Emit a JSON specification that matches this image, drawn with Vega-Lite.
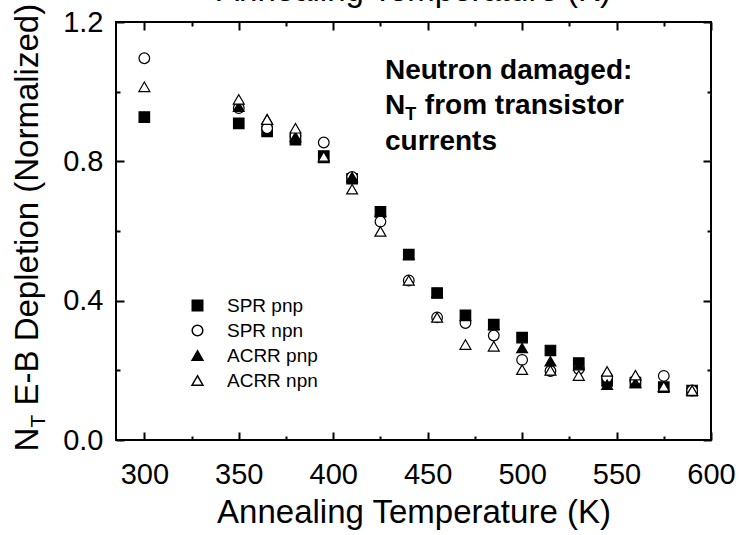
{
  "$schema": "https://vega.github.io/schema/vega-lite/v6.json",
  "width": 595,
  "height": 418,
  "autosize": "none",
  "padding": {"left": 116, "top": 22, "right": 28, "bottom": 95},
  "background": "white",
  "config": {
    "font": "Liberation Sans",
    "view": {"stroke": "black", "strokeWidth": 2},
    "axis": {
      "domain": false,
      "grid": false,
      "tickColor": "black",
      "tickWidth": 2,
      "labelFont": "Liberation Sans",
      "labelFontSize": 29,
      "labelColor": "black",
      "titleFont": "Liberation Sans",
      "titleFontSize": 33,
      "titleFontWeight": "normal",
      "titleColor": "black"
    },
    "legend": {
      "labelFont": "Liberation Sans",
      "labelFontSize": 19,
      "labelColor": "black"
    }
  },
  "datasets": {
    "pts": [
      {"T": 300, "v": 0.927, "s": "SPR pnp"},
      {"T": 350, "v": 0.909, "s": "SPR pnp"},
      {"T": 365, "v": 0.886, "s": "SPR pnp"},
      {"T": 380, "v": 0.862, "s": "SPR pnp"},
      {"T": 395, "v": 0.815, "s": "SPR pnp"},
      {"T": 410, "v": 0.75, "s": "SPR pnp"},
      {"T": 425, "v": 0.655, "s": "SPR pnp"},
      {"T": 440, "v": 0.532, "s": "SPR pnp"},
      {"T": 455, "v": 0.422, "s": "SPR pnp"},
      {"T": 470, "v": 0.358, "s": "SPR pnp"},
      {"T": 485, "v": 0.331, "s": "SPR pnp"},
      {"T": 500, "v": 0.294, "s": "SPR pnp"},
      {"T": 515, "v": 0.257, "s": "SPR pnp"},
      {"T": 530, "v": 0.221, "s": "SPR pnp"},
      {"T": 545, "v": 0.17, "s": "SPR pnp"},
      {"T": 560, "v": 0.165, "s": "SPR pnp"},
      {"T": 575, "v": 0.152, "s": "SPR pnp"},
      {"T": 590, "v": 0.142, "s": "SPR pnp"},
      {"T": 300, "v": 1.096, "s": "SPR npn"},
      {"T": 350, "v": 0.953, "s": "SPR npn"},
      {"T": 365, "v": 0.895, "s": "SPR npn"},
      {"T": 380, "v": 0.873, "s": "SPR npn"},
      {"T": 395, "v": 0.854, "s": "SPR npn"},
      {"T": 410, "v": 0.755, "s": "SPR npn"},
      {"T": 425, "v": 0.627, "s": "SPR npn"},
      {"T": 440, "v": 0.458, "s": "SPR npn"},
      {"T": 455, "v": 0.352, "s": "SPR npn"},
      {"T": 470, "v": 0.336, "s": "SPR npn"},
      {"T": 485, "v": 0.3, "s": "SPR npn"},
      {"T": 500, "v": 0.23, "s": "SPR npn"},
      {"T": 515, "v": 0.198, "s": "SPR npn"},
      {"T": 530, "v": 0.204, "s": "SPR npn"},
      {"T": 545, "v": 0.18, "s": "SPR npn"},
      {"T": 560, "v": 0.17, "s": "SPR npn"},
      {"T": 575, "v": 0.184, "s": "SPR npn"},
      {"T": 590, "v": 0.142, "s": "SPR npn"},
      {"T": 350, "v": 0.957, "s": "ACRR pnp"},
      {"T": 365, "v": 0.921, "s": "ACRR pnp"},
      {"T": 380, "v": 0.87, "s": "ACRR pnp"},
      {"T": 395, "v": 0.81, "s": "ACRR pnp"},
      {"T": 410, "v": 0.755, "s": "ACRR pnp"},
      {"T": 425, "v": 0.656, "s": "ACRR pnp"},
      {"T": 440, "v": 0.532, "s": "ACRR pnp"},
      {"T": 455, "v": 0.422, "s": "ACRR pnp"},
      {"T": 470, "v": 0.356, "s": "ACRR pnp"},
      {"T": 485, "v": 0.33, "s": "ACRR pnp"},
      {"T": 500, "v": 0.264, "s": "ACRR pnp"},
      {"T": 515, "v": 0.226, "s": "ACRR pnp"},
      {"T": 530, "v": 0.215, "s": "ACRR pnp"},
      {"T": 545, "v": 0.159, "s": "ACRR pnp"},
      {"T": 560, "v": 0.164, "s": "ACRR pnp"},
      {"T": 575, "v": 0.152, "s": "ACRR pnp"},
      {"T": 590, "v": 0.142, "s": "ACRR pnp"},
      {"T": 300, "v": 1.014, "s": "ACRR npn"},
      {"T": 350, "v": 0.978, "s": "ACRR npn"},
      {"T": 365, "v": 0.92, "s": "ACRR npn"},
      {"T": 380, "v": 0.895, "s": "ACRR npn"},
      {"T": 395, "v": 0.814, "s": "ACRR npn"},
      {"T": 410, "v": 0.72, "s": "ACRR npn"},
      {"T": 425, "v": 0.599, "s": "ACRR npn"},
      {"T": 440, "v": 0.458, "s": "ACRR npn"},
      {"T": 455, "v": 0.352, "s": "ACRR npn"},
      {"T": 470, "v": 0.274, "s": "ACRR npn"},
      {"T": 485, "v": 0.269, "s": "ACRR npn"},
      {"T": 500, "v": 0.202, "s": "ACRR npn"},
      {"T": 515, "v": 0.2, "s": "ACRR npn"},
      {"T": 530, "v": 0.185, "s": "ACRR npn"},
      {"T": 545, "v": 0.197, "s": "ACRR npn"},
      {"T": 560, "v": 0.186, "s": "ACRR npn"},
      {"T": 575, "v": 0.154, "s": "ACRR npn"},
      {"T": 590, "v": 0.142, "s": "ACRR npn"}
    ]
  },
  "layer": [
    {
      "data": {"name": "pts"},
      "mark": {"type": "point", "stroke": "black", "strokeWidth": 1.2, "opacity": 1},
      "encoding": {
        "x": {
          "field": "T", "type": "quantitative",
          "scale": {"domain": [285, 600], "nice": false, "zero": false},
          "axis": {
            "orient": "bottom",
            "values": [300, 325, 350, 375, 400, 425, 450, 475, 500, 525, 550, 575, 600],
            "tickSize": {"condition": {"test": "datum.value % 50 === 0", "value": -8}, "value": -4},
            "labelExpr": "datum.value % 50 === 0 ? datum.label : ''",
            "labelPadding": 28,
            "labelFlush": false,
            "labelOverlap": false,
            "title": "Annealing Temperature (K)",
            "titlePadding": 3
          }
        },
        "y": {
          "field": "v", "type": "quantitative",
          "scale": {"domain": [0, 1.2], "nice": false, "zero": false},
          "axis": {
            "orient": "left",
            "values": [0, 0.2, 0.4, 0.6, 0.8, 1.0, 1.2],
            "tickSize": {"condition": {"test": "round(datum.value * 10) % 4 === 0", "value": -8}, "value": -4},
            "labelExpr": "round(datum.value * 10) % 4 === 0 ? format(datum.value, '.1f') : ''",
            "labelPadding": 21,
            "labelFlush": false,
            "labelOverlap": false,
            "title": null
          }
        },
        "shape": {
          "field": "s", "type": "nominal",
          "scale": {"domain": ["SPR pnp", "SPR npn", "ACRR pnp", "ACRR npn"], "range": ["square", "circle", "triangle-up", "triangle-up"]},
          "legend": {
            "orient": "none", "legendX": 72, "legendY": 274, "title": null,
            "labelOffset": 20, "rowPadding": 5,
            "encode": {"symbols": {"update": {"stroke": {"value": "black"}, "strokeWidth": {"value": 1.2}}}}
          }
        },
        "fill": {
          "field": "s", "type": "nominal",
          "scale": {"domain": ["SPR pnp", "SPR npn", "ACRR pnp", "ACRR npn"], "range": ["black", "white", "black", "white"]},
          "legend": {
            "orient": "none", "legendX": 72, "legendY": 274, "title": null,
            "labelOffset": 20, "rowPadding": 5,
            "encode": {"symbols": {"update": {"stroke": {"value": "black"}, "strokeWidth": {"value": 1.2}}}}
          }
        },
        "size": {
          "field": "s", "type": "nominal",
          "scale": {"domain": ["SPR pnp", "SPR npn", "ACRR pnp", "ACRR npn"], "range": [110, 120, 190, 190]},
          "legend": {
            "orient": "none", "legendX": 72, "legendY": 274, "title": null,
            "labelOffset": 20, "rowPadding": 5,
            "encode": {"symbols": {"update": {"stroke": {"value": "black"}, "strokeWidth": {"value": 1.2}}}}
          }
        }
      }
    },
    {
      "data": {"name": "pts"},
      "mark": {"type": "point", "opacity": 0},
      "encoding": {
        "x": {
          "field": "T", "type": "quantitative",
          "scale": {"domain": [285, 600], "nice": false, "zero": false},
          "axis": {
            "orient": "top",
            "values": [300, 325, 350, 375, 400, 425, 450, 475, 500, 525, 550, 575, 600],
            "tickSize": {"condition": {"test": "datum.value % 50 === 0", "value": -8}, "value": -4},
            "labels": false,
            "title": "Annealing Temperature (K)",
            "titlePadding": 14
          }
        },
        "y": {
          "field": "v", "type": "quantitative",
          "scale": {"domain": [0, 1.2], "nice": false, "zero": false},
          "axis": {
            "orient": "right",
            "values": [0, 0.2, 0.4, 0.6, 0.8, 1.0, 1.2],
            "tickSize": {"condition": {"test": "round(datum.value * 10) % 4 === 0", "value": -8}, "value": -4},
            "labels": false,
            "title": null
          }
        }
      }
    },
    {
      "data": {"values": [
        {"x": 243.7, "y": -0.033, "t": "N"},
        {"x": 243.7, "y": 0.099, "t": "E-B Depletion (Normalized)"}
      ]},
      "mark": {"type": "text", "angle": 270, "align": "left", "baseline": "alphabetic", "fontSize": 33, "font": "Liberation Sans", "color": "black"},
      "encoding": {
        "x": {"field": "x", "type": "quantitative", "scale": {"domain": [285, 600], "nice": false, "zero": false}, "axis": null},
        "y": {"field": "y", "type": "quantitative", "scale": {"domain": [0, 1.2], "nice": false, "zero": false}, "axis": null},
        "text": {"field": "t"}
      }
    },
    {
      "data": {"values": [
        {"x": 247.4, "y": 0.036, "t": "T"}
      ]},
      "mark": {"type": "text", "angle": 270, "align": "left", "baseline": "alphabetic", "fontSize": 21, "font": "Liberation Sans", "color": "black"},
      "encoding": {
        "x": {"field": "x", "type": "quantitative", "scale": {"domain": [285, 600], "nice": false, "zero": false}, "axis": null},
        "y": {"field": "y", "type": "quantitative", "scale": {"domain": [0, 1.2], "nice": false, "zero": false}, "axis": null},
        "text": {"field": "t"}
      }
    },
    {
      "data": {"values": [
        {"x": 427.4, "y": 1.036, "t": "Neutron damaged:"},
        {"x": 427.4, "y": 0.936, "t": "N"},
        {"x": 448.5, "y": 0.936, "t": "from transistor"},
        {"x": 427.4, "y": 0.833, "t": "currents"}
      ]},
      "mark": {"type": "text", "align": "left", "baseline": "alphabetic", "fontSize": 28, "fontWeight": "bold", "font": "Liberation Sans", "color": "black"},
      "encoding": {
        "x": {"field": "x", "type": "quantitative", "scale": {"domain": [285, 600], "nice": false, "zero": false}, "axis": null},
        "y": {"field": "y", "type": "quantitative", "scale": {"domain": [0, 1.2], "nice": false, "zero": false}, "axis": null},
        "text": {"field": "t"}
      }
    },
    {
      "data": {"values": [
        {"x": 438.1, "y": 0.92, "t": "T"}
      ]},
      "mark": {"type": "text", "align": "left", "baseline": "alphabetic", "fontSize": 18, "fontWeight": "bold", "font": "Liberation Sans", "color": "black"},
      "encoding": {
        "x": {"field": "x", "type": "quantitative", "scale": {"domain": [285, 600], "nice": false, "zero": false}, "axis": null},
        "y": {"field": "y", "type": "quantitative", "scale": {"domain": [0, 1.2], "nice": false, "zero": false}, "axis": null},
        "text": {"field": "t"}
      }
    }
  ],
  "resolve": {"axis": {"x": "independent", "y": "independent"}}
}
